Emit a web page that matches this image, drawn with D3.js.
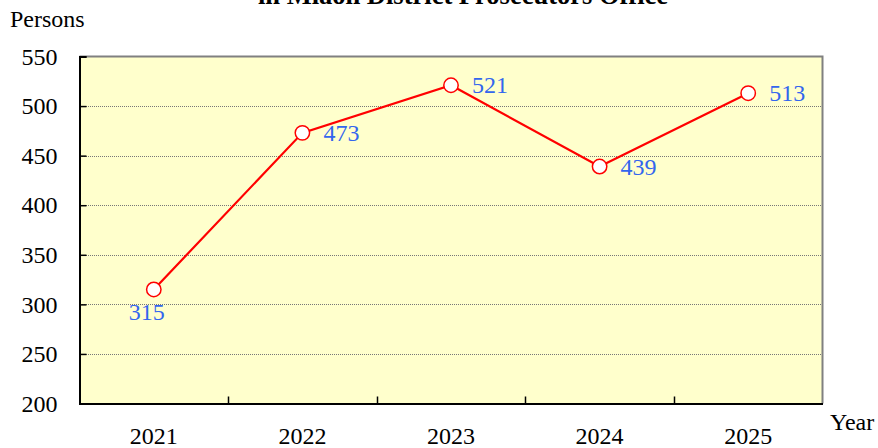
<!DOCTYPE html>
<html><head><meta charset="utf-8">
<script src="https://cdn.jsdelivr.net/npm/d3@7"></script>
<style>
html,body{margin:0;padding:0;background:#fff;}
svg{display:block;font-family:"Liberation Serif","Times New Roman",serif;}
</style></head>
<body><svg id="c" width="878" height="448"></svg>
<script>
const years = ["2021","2022","2023","2024","2025"];
const persons = [315, 473, 521, 439, 513];
const yTicks = [200, 250, 300, 350, 400, 450, 500, 550];
const titleLine = "in Miaoli District Prosecutors Office";
const yTitle = "Persons";
const xTitle = "Year";

const svg = d3.select("#c");
const m = {left: 79.5, right: 822.5, top: 56.5, bottom: 403.5};
const x = d3.scaleBand().domain(years).range([m.left, m.right]);
const y = d3.scaleLinear().domain([200, 550]).range([m.bottom, m.top]);

// title (partially cut off at the top, as in the reference)
svg.append("text").attr("x", 463).attr("y", 3.5).attr("text-anchor", "middle")
  .attr("font-size", 26.5).attr("font-weight", "bold").text(titleLine);

// plot background
svg.append("rect").attr("x", m.left).attr("y", m.top)
  .attr("width", m.right - m.left).attr("height", m.bottom - m.top)
  .attr("fill", "#FFFFCC");

// gridlines
svg.append("g").selectAll("line").data(yTicks.filter(d => d > 200 && d < 550)).join("line")
  .attr("x1", m.left).attr("x2", m.right)
  .attr("y1", d => Math.round(y(d)) + 0.5).attr("y2", d => Math.round(y(d)) + 0.5)
  .attr("stroke", "#777").attr("stroke-width", 1).attr("stroke-dasharray", "1,1")
  .attr("shape-rendering", "crispEdges");

// top & right border (gray)
svg.append("path")
  .attr("d", `M${m.left},${m.top}H${m.right}V${m.bottom}`)
  .attr("fill", "none").attr("stroke", "#808080").attr("stroke-width", 2);

// y axis
const yAxis = d3.axisLeft(y).tickValues(yTicks).tickSize(-7).tickPadding(22).tickFormat(d3.format("d"));
const gy = svg.append("g").attr("transform", `translate(${m.left},0)`).call(yAxis);
gy.select(".domain").attr("stroke", "#000").attr("stroke-width", 2);
gy.selectAll(".tick line").attr("stroke", "#000").attr("stroke-width", 1.5);
gy.selectAll(".tick text").attr("font-size", 24).attr("font-family", "Liberation Serif, Times New Roman, serif").attr("fill", "#000");

// x axis
const xAxis = d3.axisBottom(x).tickSize(0).tickPadding(23);
const gx = svg.append("g").attr("transform", `translate(0,${m.bottom})`).call(xAxis);
gx.select(".domain").attr("stroke", "#000").attr("stroke-width", 2);
gx.selectAll(".tick text").attr("font-size", 24).attr("font-family", "Liberation Serif, Times New Roman, serif").attr("fill", "#000");
// inward ticks at category boundaries
svg.append("g").selectAll("line").data(years.slice(1)).join("line")
  .attr("x1", d => Math.round(x(d)) + 0.5).attr("x2", d => Math.round(x(d)) + 0.5)
  .attr("y1", m.bottom).attr("y2", m.bottom - 7)
  .attr("stroke", "#000").attr("stroke-width", 1.5);

// axis titles
svg.append("text").attr("x", 10).attr("y", 27).attr("font-size", 24).text(yTitle);
svg.append("text").attr("x", 830).attr("y", 430).attr("font-size", 24).text(xTitle);

// line
const pts = years.map((yr, i) => ({yr, v: persons[i]}));
const cx = d => x(d.yr) + x.bandwidth() / 2;
svg.append("path").datum(pts)
  .attr("d", d3.line().x(cx).y(d => y(d.v)))
  .attr("fill", "none").attr("stroke", "#FF0000").attr("stroke-width", 2.2);

svg.append("g").selectAll("circle").data(pts).join("circle")
  .attr("cx", cx).attr("cy", d => y(d.v)).attr("r", 7.2)
  .attr("fill", "#fff").attr("stroke", "#FF0000").attr("stroke-width", 1.5);

// data labels
svg.append("g").selectAll("text").data(pts).join("text")
  .attr("x", (d, i) => i === 0 ? cx(d) - 7 : cx(d) + 21)
  .attr("y", (d, i) => i === 0 ? y(d.v) + 31 : y(d.v) + 8)
  .attr("text-anchor", (d, i) => i === 0 ? "middle" : "start")
  .attr("font-size", 24).attr("fill", "#3366EE")
  .text(d => d.v);
</script></body></html>
